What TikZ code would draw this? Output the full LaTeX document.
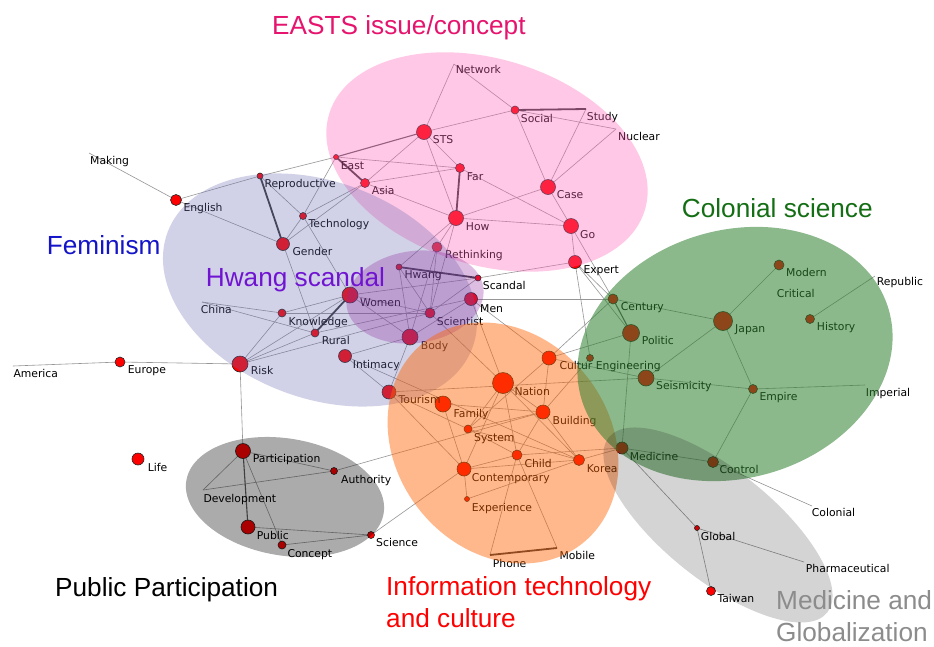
\documentclass[tikz,border=0pt]{standalone}
\usepackage{fontspec}
\setmainfont{Liberation Sans}
\newfontfamily\labfont{DejaVu Sans}
\definecolor{pinkov}{RGB}{255,98,184}
\definecolor{lavov}{RGB}{105,105,178}
\definecolor{hwangov}{RGB}{143,43,159}
\definecolor{orangeov}{RGB}{255,99,0}
\definecolor{greenov}{RGB}{46,128,46}
\definecolor{eastsc}{RGB}{230,20,110}
\definecolor{colc}{RGB}{20,110,20}
\definecolor{femc}{RGB}{20,20,200}
\definecolor{hwc}{RGB}{112,20,210}
\definecolor{medc}{RGB}{140,140,140}
\definecolor{edgec}{RGB}{150,150,150}
\definecolor{thickc}{RGB}{55,55,60}
\begin{document}
\begin{tikzpicture}[x=1pt,y=-1pt,
  dotnode/.style={circle,draw=black!85,line width=0.6pt,fill=red,inner sep=0pt},
  lab/.style={font=\labfont\fontsize{10.8}{12}\selectfont,anchor=base west,inner sep=0pt,text=black},
  edge/.style={draw=edgec,line width=0.6pt},
  heavy/.style={draw=thickc,line width=1.8pt},
  medium/.style={draw=thickc!80,line width=1.1pt},
  title/.style={font=\fontsize{26.2}{30}\selectfont,anchor=base west,inner sep=0pt}
]
\useasboundingbox (0,0) rectangle (934,646);
\fill[white] (0,0) rectangle (934,646);
% ---------- coordinates of all nodes ----------
\foreach \n/\x/\y in {Network/454/64, Social/515/110, Study/586/109, Nuclear/616/129,
  STS/424/132, East/336/157, Asia/365/183, Far/460/168, Case/548/187, How/456/218,
  Go/571/226, Rethinking/437/247, Expert/575/262, Reproductive/260/176,
  Technology/303/216, Gender/283/244, English/176/200, Making/89/153, Hwang/399/267,
  Scandal/478/278, Women/350/295, Men/471/299, Scientist/430/313, Body/410/337,
  Knowledge/282/313, Rural/315/333, Intimacy/345/356, Risk/240/364, China/202/302,
  Europe/120/362, America/13/366, Life/138/459, Tourism/389/392, Participation/243/451,
  Authority/334/471, Development/203/490, Public/248/527, Concept/282/545,
  Science/371/535, Nation/503/383, Cultur/549/358, Engineering/590/358, Family/443/404,
  Building/543/412, System/468/429, Child/517/455, Korea/579/460, Contemporary/464/469,
  Experience/467/499, Phone/490/555, Mobile/557/548, Century/613/299, Politic/631/333,
  Japan/723/321, Modern/779/265, Critical/776/290, History/810/319, Republic/875/276,
  Seismicity/646/378, Empire/753/389, Imperial/865/385, Medicine/622/448,
  Control/713/462, Colonial/812/506, Global/697/528, Pharmaceutical/804/562,
  Taiwan/711/591}
  {\coordinate (\n) at (\x,\y);}
% ---------- thin edges ----------
\foreach \a/\b in {Network/STS, Network/Social, Social/Nuclear, Social/Case, Study/Case,
  Nuclear/Case, STS/Social, STS/Asia, STS/Far, STS/How, East/Far, Asia/Far, Far/Go,
  How/Case, How/Go, Case/Go, Asia/How, Making/English, English/Reproductive,
  Reproductive/East, English/Gender, Reproductive/Technology, Technology/East,
  Technology/Asia, Gender/Technology, Gender/Asia, Gender/Rural, Technology/Women,
  China/Knowledge, China/Rural, Knowledge/Women, Knowledge/Risk, Risk/Rural, Risk/Women,
  Risk/Scientist, Risk/Europe, Europe/America, Risk/Participation, Hwang/Body,
  Hwang/Scientist, Rethinking/Scientist, Rethinking/Body, How/Rethinking, How/Scientist,
  How/Hwang, Women/Scientist, Women/Body, Women/Scandal, Knowledge/Scientist, Rural/Men,
  Men/Century, Scientist/Scandal, Body/Men, Intimacy/Body, Body/Tourism, Intimacy/Tourism,
  Scientist/Nation, Men/Cultur, Men/Nation, Scandal/Expert, Expert/Century, Expert/Politic,
  Expert/Engineering, Go/Century, Go/Expert, Cultur/Politic, Cultur/Century,
  Cultur/Seismicity, Century/Japan, Politic/Medicine, Japan/Seismicity, Japan/Modern,
  Japan/Empire, History/Republic, Seismicity/Empire, Empire/Imperial, Empire/Control,
  Medicine/Control, Control/Colonial, Medicine/Global, Global/Taiwan,
  Global/Pharmaceutical, Medicine/Korea, Child/Medicine, Nation/System, Nation/Child,
  Nation/Contemporary, Nation/Korea, Nation/Building, Cultur/System, Cultur/Building,
  Family/Building, Family/Contemporary, System/Building, System/Child, System/Korea,
  Building/Child, Building/Korea, Child/Phone, Child/Mobile, Contemporary/Experience,
  Experience/Korea, Contemporary/Child, Contemporary/Korea, Contemporary/Science,
  Authority/Building, Participation/Authority, Development/Authority,
  Development/Participation, Public/Science, Concept/Science, Participation/Concept,
  Tourism/Seismicity, Building/Engineering, Tourism/Contemporary, Tourism/System,
  Intimacy/Korea}
  {\draw[edge] (\a) -- (\b);}
% ---------- heavy edges ----------
\foreach \a/\b in {Social/Study, Far/How, East/Asia, Reproductive/Gender, Hwang/Scandal,
  Rural/Women, Phone/Mobile}
  {\draw[heavy] (\a) -- (\b);}
\foreach \a/\b in {STS/East, Participation/Public, Century/Politic}
  {\draw[medium] (\a) -- (\b);}
% ---------- dots ----------
\foreach \n/\r in {Social/4, STS/7.5, East/2.5, Asia/4.5, Far/4.5, Case/7.5, How/7.5,
  Go/7.5, Rethinking/5, Expert/6.5, Reproductive/3, Technology/3.5, Gender/6.5,
  English/5.5, Hwang/3, Scandal/3, Women/8, Men/6.5, Scientist/5, Body/8, Knowledge/4,
  Rural/4, Intimacy/6.5, Risk/8, Europe/5, Life/6, Tourism/7, Participation/7.5,
  Authority/3.5, Public/7, Concept/4, Science/3.5, Nation/10.5, Cultur/7, Family/8,
  Building/7, System/4, Child/5, Korea/5.5, Contemporary/7, Experience/2.5, Century/5,
  Politic/8.5, Japan/9.5, Modern/5, History/4.5, Seismicity/8, Empire/4.5,
  Engineering/3.5, Medicine/6, Control/5.5, Global/2.5, Taiwan/4.5}
  {\node[dotnode,minimum size={2*\r*1pt}] (\n-d) at (\n) {};}
% ---------- labels ----------
\foreach \n/\x/\y in {Network/455.7/70, Social/520.7/118.3, Study/586.7/116.7,
  Nuclear/618/136.7, STS/432.7/140, East/340.7/166, Asia/371.7/190.7, Far/466.7/176.7,
  Case/556.7/195, How/465.7/226.7, Go/580/234.3, Rethinking/445/255, Expert/583.3/270,
  Reproductive/264.3/183.3, Technology/308.5/223.5, Gender/292.3/251.7,
  English/183.3/207.7, Making/90/160.7, Hwang/404.3/275, Scandal/482.7/286,
  Women/360/303, Men/480/308.3, Scientist/436.7/321.7, Body/420.7/346,
  Knowledge/288.3/321.7, Rural/321.7/340.7, Intimacy/352.7/364.3, Risk/250.7/371,
  China/200.7/310, Europe/127.7/370, America/13.3/373.3, Life/147.7/467.7,
  Tourism/398.5/400, Participation/252.7/458.3, Authority/341/480,
  Development/203.3/499, Public/256.7/535.7, Concept/287.3/554, Science/376/542.7,
  Nation/514.3/391.5, Cultur/559.3/366, Engineering/595.7/366, Family/453.5/413.3,
  Building/552.5/420.5, System/474/437.7, Child/524.3/463.3, Korea/586.7/468.3,
  Contemporary/471.7/477.3, Experience/471.7/507.3, Phone/492.7/563.3,
  Mobile/559.3/555.7, Century/620.7/306.7, Politic/641.7/341, Japan/735/329,
  Modern/786/272.7, Critical/776.7/294, History/816.7/326.7, Republic/876.7/281.7,
  Seismicity/656/386, Empire/759.3/396.7, Imperial/865.7/392.3, Medicine/629.7/456.7,
  Control/719.3/470, Colonial/811.7/512.7, Global/700.7/536.7,
  Pharmaceutical/805.7/569, Taiwan/717.3/599}
  {\node[lab] (\n-l) at (\x,\y+3.8) {\n};}
% ---------- cluster overlays ----------
\coordinate (cPink) at (487,162);
\coordinate (cLav) at (320,290);
\coordinate (cHw) at (415,297);
\coordinate (cOr) at (503,443);
\coordinate (cGr) at (735,354);
\coordinate (cDg) at (285,497);
\coordinate (cLg) at (718,525);
\fill[pinkov,opacity=0.35,rotate around={-17:(cPink)}] (cPink) ellipse [x radius=165, y radius=103];
\fill[lavov,opacity=0.3,rotate around={-21:(cLav)}] (cLav) ellipse [x radius=163, y radius=108];
\fill[hwangov,opacity=0.3,rotate around={8:(cHw)}] (cHw) ellipse [x radius=69, y radius=46];
\fill[orangeov,opacity=0.45,rotate around={-52:(cOr)}] (cOr) ellipse [x radius=128, y radius=107];
\fill[greenov,opacity=0.55,rotate around={16:(cGr)}] (cGr) ellipse [x radius=160, y radius=124];
\fill[black,opacity=0.33,rotate around={-9.5:(cDg)}] (cDg) ellipse [x radius=100, y radius=58.5];
\fill[black,opacity=0.17,rotate around={-38.7:(cLg)}] (cLg) ellipse [x radius=140, y radius=55];
% ---------- cluster titles ----------
\node[title,text=eastsc] (tEasts) at (272,34.3) {EASTS issue/concept};
\node[title,text=colc] (tCol) at (681.7,217.6) {Colonial science};
\node[title,text=femc] (tFem) at (46.7,254.3) {Feminism};
\node[title,text=hwc] (tHw) at (205.7,286) {Hwang scandal};
\node[title,text=black] (tPP) at (55,596) {Public Participation};
\node[title,text=red] (tIT1) at (386,595.3) {Information technology};
\node[title,text=red] (tIT2) at (386,627.5) {and culture};
\node[title,text=medc] (tMed1) at (776,609.3) {Medicine and};
\node[title,text=medc] (tMed2) at (776,641) {Globalization};
\end{tikzpicture}
\end{document}
